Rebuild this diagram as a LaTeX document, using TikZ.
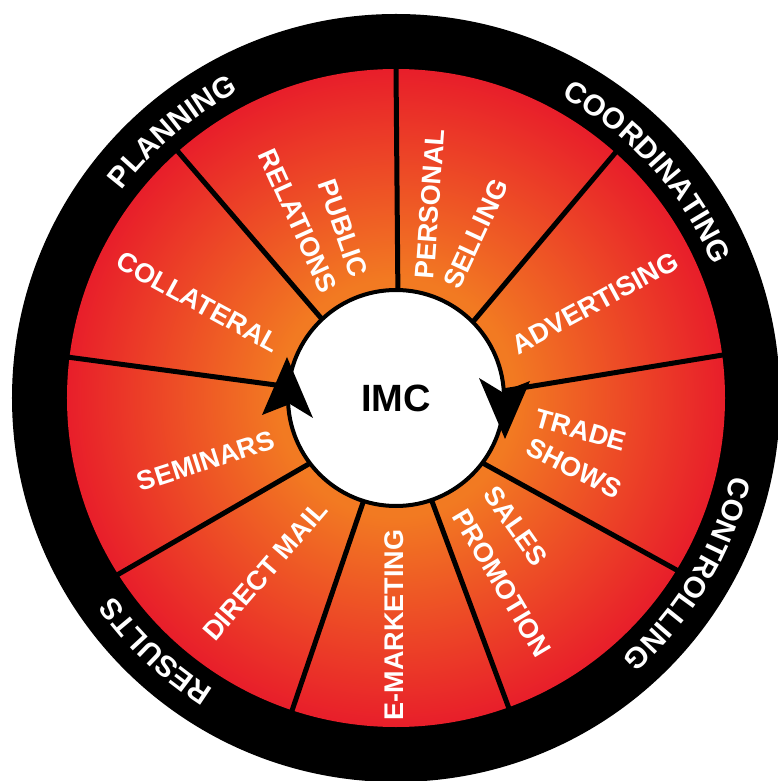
\documentclass[tikz,border=0pt]{standalone}
\usepackage{fontspec}
\setmainfont{Liberation Sans}
\usetikzlibrary{decorations.text}

\definecolor{wheelin}{HTML}{F27A22}
\definecolor{wheelout}{HTML}{E81E2A}
% orange core fading to red at the rim of the wheel
\pgfdeclareradialshading{wheelshade}{\pgfpoint{0bp}{0bp}}{%
  color(0bp)=(wheelin); color(9bp)=(wheelin);
  color(25bp)=(wheelout); color(50bp)=(wheelout)}

\newcommand\segfont{\fontsize{27}{29}\selectfont\bfseries}
\newcommand\ringfont{\fontsize{29.5}{31}\selectfont\bfseries\color{white}}

\begin{document}
\begin{tikzpicture}[x=1pt,y=1pt,
  divider/.style={line width=5pt},
  seglabel/.style={text=white, font=\segfont, inner sep=0pt},
  ringlabel/.style={decorate, decoration={text along path, text align=center}}]
\useasboundingbox (-396,-383) rectangle (382,398);
\coordinate (c) at (0,0);

% outer black ring and shaded wheel
\fill[black] (c) circle[radius=384];
\shade[shading=wheelshade] (c) circle[radius=329];

% spokes between the nine segments (hub angle / rim angle)
\foreach \ain/\aout in {89/90, 44.7/48.2, 3.8/7.5, -36.9/-31.5, -70.8/-70,
                        -107.5/-108.4, -142.8/-147.6, 174/172.9, 133.2/131.5}
  \draw[divider] (\ain:108) -- (\aout:330);

% central hub
\draw[line width=4pt, fill=white] (c) circle[radius=108];

% clockwise arrowheads on the hub
\fill (-109,41) -- (-134,-17) -- (-106,-6) -- (-83,-20) -- cycle;
\fill (109,-41) -- (134,17) -- (106,6) -- (83,20) -- cycle;

\node[font=\fontsize{38}{40}\selectfont\bfseries] (imc) at (c) {IMC};

% segment labels, one radial line of text each
\node[seglabel, rotate=85.8] (ps1) at (34,194) {PERSONAL};
\node[seglabel, rotate=65.1] (ps2) at (80,164) {SELLING};
\node[seglabel, rotate=28.5] (adv) at (199,95) {ADVERTISING};
\node[seglabel, rotate=-16]  (ts1) at (185,-32) {TRADE};
\node[seglabel, rotate=-27]  (ts2) at (178,-70) {SHOWS};
\node[seglabel, rotate=-54.9] (sp1) at (120,-128) {SALES};
\node[seglabel, rotate=-59.3] (sp2) at (106,-185) {PROMOTION};
\node[seglabel, rotate=90]   (em)  at (-2,-227) {E-MARKETING};
\node[seglabel, rotate=49.2] (dm)  at (-131,-173) {DIRECT MAIL};
\node[seglabel, rotate=17.8] (sem) at (-190,-63) {SEMINARS};
\node[seglabel, rotate=-28.7] (col) at (-198,96) {COLLATERAL};
\node[seglabel, rotate=-70.6] (pr1) at (-53,170) {PUBLIC};
\node[seglabel, rotate=-65.6] (pr2) at (-98,177) {RELATIONS};

% words around the black ring
\path[ringlabel, decoration={text={|\ringfont|PLANNING}}]
  (175:344) arc[start angle=175, end angle=85, radius=344];
\path[ringlabel, decoration={text={|\ringfont|COORDINATING}}]
  (87:344) arc[start angle=87, end angle=-3, radius=344];
\path[ringlabel, decoration={text={|\ringfont|CONTROLLING}}]
  (14:344) arc[start angle=14, end angle=-76, radius=344];
\path[ringlabel, decoration={text={|\ringfont|RESULTS}}]
  (271.5:344) arc[start angle=271.5, end angle=181.5, radius=344];
\end{tikzpicture}
\end{document}
